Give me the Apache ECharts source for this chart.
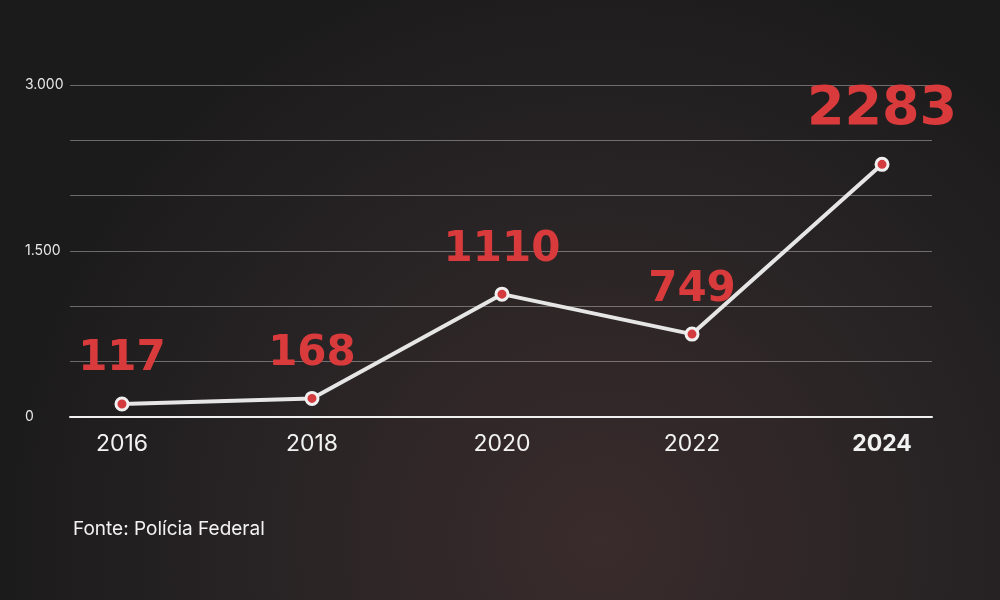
<!DOCTYPE html>
<html>
<head>
<meta charset="utf-8">
<script src="https://cdn.jsdelivr.net/npm/echarts@6/dist/echarts.min.js"></script>
<style>
  html, body { margin: 0; padding: 0; }
  #chart { width: 1000px; height: 600px; }
</style>
</head>
<body>
<div id="chart"></div>
<script>
// data
var years = [2016, 2018, 2020, 2022, 2024];
var values = [117, 168, 1110, 749, 2283];
var yTicks = [0, 1500, 3000];

var myChart = echarts.init(document.getElementById('chart'));

var option = {
  backgroundColor: {
    type: 'radial', x: 0.6, y: 0.9, r: 1,
    colorStops: [
      { offset: 0, color: '#3a2b2c' },
      { offset: 0.6, color: '#272324' },
      { offset: 1, color: '#1c1b1c' }
    ]
  },
  graphic: [
    {
      type: 'text', left: 73, top: 520,
      style: { text: 'Fonte: Polícia Federal', fill: '#f2f2f2', font: '19px Inter, sans-serif' }
    }
  ],
  grid: { left: 70, right: 68, top: 85, bottom: 183 },
  xAxis: {
    type: 'value',
    min: 2015.453,
    max: 2024.526,
    splitLine: { show: false },
    axisLine: { show: true, lineStyle: { color: '#f0f0f0', width: 2 } },
    axisTick: { show: false },
    axisLabel: {
      customValues: years,
      margin: 16,
      color: '#f2f2f2',
      fontSize: 23,
      fontFamily: 'Inter, sans-serif',
      formatter: function (v) {
        return v === 2024 ? '{b|' + v + '}' : String(v);
      },
      rich: { b: { fontWeight: 'bold', fontSize: 23, color: '#f2f2f2', fontFamily: 'Inter, sans-serif' } }
    }
  },
  yAxis: {
    type: 'value',
    min: 0,
    max: 3000,
    interval: 500,
    axisLine: { show: false },
    axisTick: { show: false },
    splitLine: { lineStyle: { color: 'rgba(255,255,255,0.35)', width: 1 } },
    axisLabel: {
      align: 'left',
      margin: 45,
      color: '#e8e8e8',
      fontSize: 14,
      fontFamily: 'Inter, sans-serif',
      verticalAlign: 'middle',
      formatter: function (v) {
        if (yTicks.indexOf(v) < 0) return '';
        return v.toLocaleString('pt-BR');
      }
    }
  },
  series: [
    {
      type: 'line',
      data: years.map(function (y, i) {
        if (y === 2024) return { value: [y, values[i]], label: { fontSize: 54, distance: 20 } };
        return [y, values[i]];
      }),
      symbol: 'circle',
      symbolSize: 12,
      lineStyle: { color: '#e6e6e6', width: 4 },
      itemStyle: { color: '#d43b3f', borderColor: '#f0f0f0', borderWidth: 3 },
      label: {
        show: true,
        position: 'top',
        distance: 16,
        color: '#d93b3d',
        fontWeight: 'bold',
        fontFamily: 'DejaVu Sans, sans-serif',
        fontSize: 42,
        formatter: function (p) { return String(p.value[1]); }
      },
      z: 5
    }
  ]
};

myChart.setOption(option);
</script>
</body>
</html>
